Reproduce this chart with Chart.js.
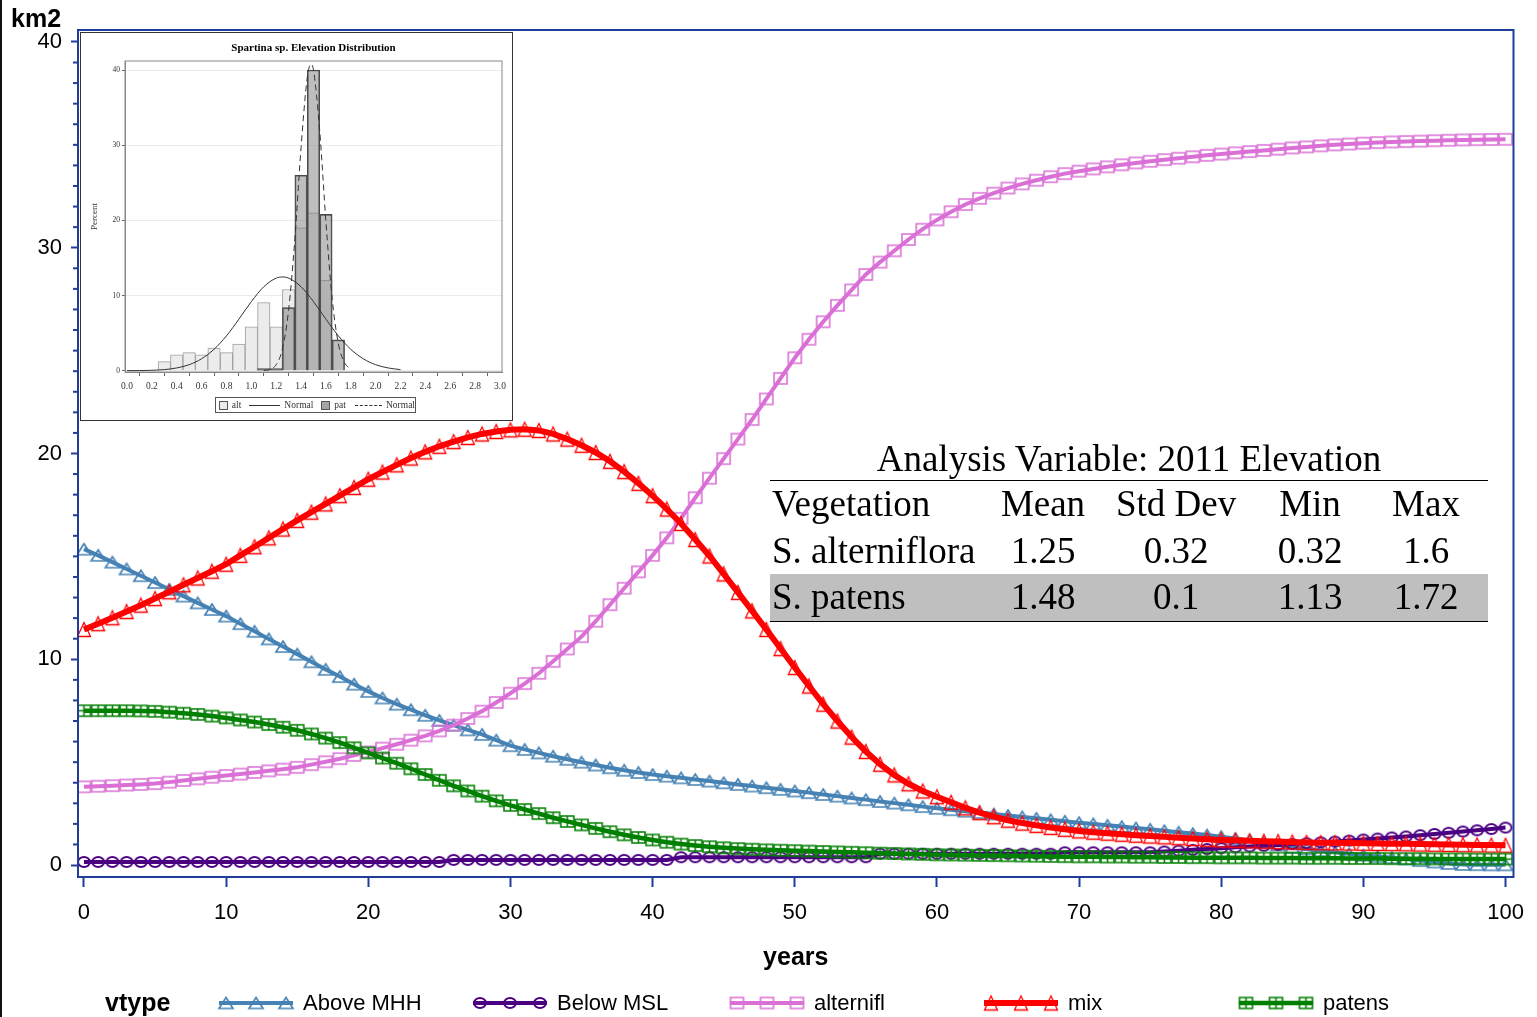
<!DOCTYPE html>
<html>
<head>
<meta charset="utf-8">
<title>Vegetation area by year</title>
<script src="https://cdn.jsdelivr.net/npm/chart.js@4.4.1/dist/chart.umd.min.js"></script>
<style>
  body { margin: 0; background: #fff; }
  #page { position: relative; width: 1537px; height: 1017px; overflow: hidden; font-family: 'Liberation Sans', Arial, sans-serif; color: #000; }
  #mainChart { position: absolute; left: 0; top: 0; }
  .edge { position: absolute; left: 0; top: 0; width: 2px; height: 1017px; background: #111; }
  .unit { position: absolute; left: 11px; top: 4px; font-weight: bold; font-size: 25px; }

  /* inset histogram */
  .inset { position: absolute; left: 80px; top: 32px; width: 431px; height: 387px; border: 1px solid #333; background: #fff; font-family: 'Liberation Serif', 'Times New Roman', serif; }
  .inset canvas { position: absolute; left: 0; top: 0; }
  .inset-title { position: absolute; left: 44px; width: 377px; top: 8px; text-align: center; font-weight: bold; font-size: 11px; }
  .inset-legend { position: absolute; left: 134px; top: 364px; width: 196px; height: 14px; border: 1px solid #555; display: flex; align-items: center; gap: 4px; padding-left: 3px; font-size: 9.5px; color: #333; box-sizing: content-box; }
  .inset-legend .sq { display: inline-block; width: 7px; height: 7px; border: 1px solid #555; }
  .inset-legend .ln { display: inline-block; width: 32px; height: 0; border-top: 1px solid #333; }
  .inset-legend .ln.dash { width: 28px; border-top: 1px dashed #333; }

  /* statistics table */
  .stats { position: absolute; left: 770px; top: 438px; width: 718px; font-family: 'Liberation Serif', 'Times New Roman', serif; font-size: 37px; }
  .stats-title { text-align: center; line-height: 42px; height: 42px; border-bottom: 1.5px solid #000; }
  .stats table { border-collapse: collapse; width: 718px; table-layout: fixed; border-bottom: 1.5px solid #000; }
  .stats td { padding: 0; height: 46.7px; line-height: 46.7px; text-align: center; white-space: nowrap; }
  .stats td:first-child { text-align: left; padding-left: 2px; }
  .stats tr.shade td { background: #bfbfbf; }

  /* main legend */
  .legend-title { position: absolute; left: 105px; top: 988px; font-weight: bold; font-size: 25px; }
  .legend-item { position: absolute; top: 990px; display: flex; align-items: center; font-size: 22px; }
  .legend-item canvas { margin-right: 9px; }
</style>
</head>
<body>
<div id="page">
  <canvas id="mainChart" width="1537" height="1017" style="width:1537px;height:1017px"></canvas>
  <div class="edge"></div>
  <div class="unit">km2</div>

  <div class="inset">
    <canvas id="histChart" width="431" height="387" style="width:431px;height:387px"></canvas>
    <div class="inset-title">Spartina sp. Elevation Distribution</div>
    <div class="inset-legend">
      <span class="sq" style="background:#ececec"></span><span>alt</span>
      <span class="ln" style="margin-left:4px"></span><span>Normal</span>
      <span class="sq" style="background:#a4a4a4;margin-left:4px"></span><span>pat</span>
      <span class="ln dash" style="margin-left:5px"></span><span>Normal</span>
    </div>
  </div>

  <div class="stats" id="stats"></div>

  <div class="legend-title">vtype</div>
  <div id="legend"></div>
</div>

<script>
// ---- main chart data (km2 by year) ----
const years = Array.from({ length: 101 }, (_, i) => i);
const xTicks = [0, 10, 20, 30, 40, 50, 60, 70, 80, 90, 100];
const yTicks = [0, 10, 20, 30, 40];
const yMinorTicks = Array.from({ length: 40 }, (_, i) => i + 1).filter(v => v % 10 !== 0);

const aboveMHH = [
  15.35, 15.05, 14.72, 14.39, 14.06, 13.73, 13.40, 13.07, 12.74, 12.42, 12.10,
  11.73, 11.36, 10.99, 10.62, 10.25, 9.88, 9.51, 9.16, 8.79, 8.44,
  8.12, 7.82, 7.55, 7.28, 7.03, 6.80, 6.57, 6.35, 6.07, 5.80,
  5.62, 5.45, 5.29, 5.14, 5.00, 4.86, 4.73, 4.61, 4.50, 4.40,
  4.32, 4.24, 4.16, 4.08, 4.00, 3.92, 3.84, 3.76, 3.68, 3.60,
  3.52, 3.43, 3.35, 3.26, 3.18, 3.09, 3.01, 2.93, 2.84, 2.76,
  2.69, 2.62, 2.55, 2.48, 2.41, 2.34, 2.27, 2.20, 2.13, 2.06,
  2.00, 1.93, 1.87, 1.80, 1.74, 1.67, 1.60, 1.53, 1.46, 1.38,
  1.29, 1.20, 1.10, 0.98, 0.86, 0.78, 0.70, 0.62, 0.55, 0.48,
  0.42, 0.36, 0.30, 0.22, 0.15, 0.08, 0.03, 0.02, 0.01, 0.01
];
const belowMSL = [
  0.15, 0.15, 0.15, 0.15, 0.15, 0.15, 0.15, 0.15, 0.15, 0.15, 0.15,
  0.15, 0.15, 0.15, 0.15, 0.15, 0.15, 0.15, 0.15, 0.15, 0.15,
  0.15, 0.15, 0.15, 0.15, 0.15, 0.25, 0.25, 0.25, 0.25, 0.25,
  0.25, 0.25, 0.25, 0.25, 0.25, 0.25, 0.25, 0.25, 0.25, 0.25,
  0.25, 0.38, 0.38, 0.38, 0.38, 0.38, 0.38, 0.38, 0.38, 0.38,
  0.38, 0.38, 0.38, 0.38, 0.38, 0.55, 0.55, 0.55, 0.55, 0.55,
  0.55, 0.55, 0.55, 0.55, 0.55, 0.55, 0.55, 0.55, 0.62, 0.62,
  0.62, 0.62, 0.62, 0.62, 0.62, 0.66, 0.70, 0.74, 0.78, 0.82,
  0.86, 0.90, 0.94, 0.98, 1.02, 1.06, 1.10, 1.14, 1.19, 1.24,
  1.29, 1.34, 1.39, 1.45, 1.51, 1.57, 1.63, 1.69, 1.75, 1.82
];
const alternifl = [
  3.80, 3.83, 3.86, 3.89, 3.92, 3.96, 4.03, 4.11, 4.19, 4.27, 4.35,
  4.42, 4.50, 4.58, 4.66, 4.75, 4.88, 5.02, 5.17, 5.33, 5.50,
  5.68, 5.87, 6.07, 6.28, 6.52, 6.80, 7.12, 7.48, 7.90, 8.35,
  8.82, 9.32, 9.90, 10.50, 11.10, 11.85, 12.65, 13.45, 14.25, 15.05,
  15.90, 16.85, 17.85, 18.80, 19.75, 20.70, 21.65, 22.65, 23.65, 24.65,
  25.55, 26.40, 27.20, 27.95, 28.70, 29.30, 29.85, 30.40, 30.90, 31.35,
  31.75, 32.10, 32.40, 32.65, 32.90, 33.10, 33.28, 33.45, 33.60, 33.72,
  33.83, 33.93, 34.03, 34.12, 34.20, 34.28, 34.35, 34.42, 34.49, 34.55,
  34.61, 34.67, 34.73, 34.79, 34.85, 34.90, 34.95, 35.00, 35.04, 35.08,
  35.11, 35.14, 35.16, 35.18, 35.20, 35.22, 35.24, 35.25, 35.26, 35.27
];
const mix = [
  11.45, 11.73, 12.02, 12.32, 12.63, 12.95, 13.28, 13.62, 13.95, 14.28, 14.62,
  15.05, 15.47, 15.90, 16.33, 16.75, 17.15, 17.55, 17.95, 18.35, 18.75,
  19.10, 19.45, 19.78, 20.08, 20.35, 20.58, 20.78, 20.95, 21.07, 21.15,
  21.18, 21.12, 20.95, 20.70, 20.40, 20.05, 19.62, 19.12, 18.55, 17.95,
  17.30, 16.60, 15.82, 15.02, 14.15, 13.25, 12.35, 11.45, 10.52, 9.60,
  8.70, 7.82, 7.00, 6.22, 5.52, 4.90, 4.38, 3.95, 3.60, 3.32,
  3.05, 2.78, 2.55, 2.35, 2.18, 2.04, 1.93, 1.83, 1.74, 1.66,
  1.60, 1.55, 1.50, 1.45, 1.41, 1.37, 1.33, 1.29, 1.25, 1.22,
  1.20, 1.18, 1.16, 1.14, 1.12, 1.10, 1.09, 1.08, 1.07, 1.06,
  1.05, 1.04, 1.03, 1.02, 1.01, 1.00, 0.99, 0.98, 0.97, 0.96
];
const patens = [
  7.50, 7.50, 7.50, 7.50, 7.49, 7.47, 7.43, 7.38, 7.32, 7.24, 7.15,
  7.05, 6.95, 6.83, 6.70, 6.55, 6.37, 6.17, 5.95, 5.70, 5.45,
  5.20, 4.95, 4.68, 4.40, 4.12, 3.85, 3.60, 3.35, 3.12, 2.90,
  2.70, 2.50, 2.30, 2.12, 1.95, 1.78, 1.62, 1.47, 1.34, 1.22,
  1.11, 1.02, 0.95, 0.89, 0.84, 0.80, 0.77, 0.74, 0.72, 0.70,
  0.68, 0.66, 0.64, 0.62, 0.60, 0.58, 0.56, 0.54, 0.52, 0.50,
  0.49, 0.48, 0.47, 0.46, 0.45, 0.44, 0.43, 0.42, 0.41, 0.40,
  0.40, 0.39, 0.39, 0.38, 0.38, 0.37, 0.37, 0.36, 0.36, 0.35,
  0.35, 0.35, 0.34, 0.34, 0.34, 0.33, 0.33, 0.33, 0.32, 0.32,
  0.32, 0.31, 0.31, 0.31, 0.30, 0.30, 0.30, 0.29, 0.29, 0.29
];

// ---- inset histogram data (percent by elevation) ----
const altBins = [0.3, 0.4, 0.5, 0.6, 0.7, 0.8, 0.9, 1.0, 1.1, 1.2, 1.3, 1.4, 1.5, 1.6];
const altPct = [1.2, 2.1, 2.4, 2.1, 3.0, 2.4, 3.55, 5.85, 9.05, 5.85, 10.8, 19.0, 21.0, 12.05];
const patBins = [1.1, 1.2, 1.3, 1.4, 1.5, 1.6, 1.7];
const patPct = [0.3, 0.3, 8.4, 26.0, 40.0, 20.8, 4.1];
const altNormX = [0.0, 0.1, 0.2, 0.3, 0.4, 0.5, 0.6, 0.7, 0.8, 0.9, 1.0, 1.1, 1.2, 1.25, 1.3, 1.4, 1.5, 1.6, 1.7, 1.8, 1.9, 2.0, 2.1, 2.2];
const altNormY = [0.01, 0.02, 0.06, 0.15, 0.37, 0.80, 1.59, 2.85, 4.64, 6.86, 9.19, 11.17, 12.32, 12.47, 12.32, 11.17, 9.19, 6.86, 4.64, 2.85, 1.59, 0.80, 0.37, 0.15];
const patNormX = [1.10, 1.15, 1.20, 1.25, 1.30, 1.35, 1.40, 1.45, 1.48, 1.50, 1.55, 1.60, 1.65, 1.70, 1.75, 1.80];
const patNormY = [0.03, 0.17, 0.81, 2.9, 8.1, 17.5, 29.7, 39.0, 40.8, 40.0, 31.9, 19.8, 9.6, 3.6, 1.06, 0.25];
const histXTicks = [0, 0.2, 0.4, 0.6, 0.8, 1.0, 1.2, 1.4, 1.6, 1.8, 2.0, 2.2, 2.4, 2.6, 2.8, 3.0];
const histYTicks = [0, 10, 20, 30, 40];

// ---- summary table ----
const statsTitle = 'Analysis Variable: 2011 Elevation';
const statsHeader = ['Vegetation', 'Mean', 'Std Dev', 'Min', 'Max'];
const statsRows = [
  ['S. alterniflora', '1.25', '0.32', '0.32', '1.6'],
  ['S. patens', '1.48', '0.1', '1.13', '1.72']
];

const AXIS_BLUE = '#1f3d99';

// hollow marker glyphs used as point styles
function makeMarker(shape, color, w, h, lw) {
  const c = document.createElement('canvas');
  c.width = Math.ceil(w + lw * 2 + 2);
  c.height = Math.ceil(h + lw * 2 + 2);
  const g = c.getContext('2d');
  const cx = c.width / 2, cy = c.height / 2;
  g.strokeStyle = color;
  g.lineWidth = lw;
  g.beginPath();
  if (shape === 'triangle') {
    g.moveTo(cx, cy - h / 2);
    g.lineTo(cx + w / 2, cy + h / 2);
    g.lineTo(cx - w / 2, cy + h / 2);
    g.closePath();
  } else if (shape === 'circle') {
    g.ellipse(cx, cy, w / 2, h / 2, 0, 0, Math.PI * 2);
  } else {
    g.rect(cx - w / 2, cy - h / 2, w, h);
    if (shape === 'squareplus') {
      g.moveTo(cx, cy - h / 2); g.lineTo(cx, cy + h / 2);
      g.moveTo(cx - w / 2, cy); g.lineTo(cx + w / 2, cy);
    }
  }
  g.stroke();
  return c;
}

const series = [
  { label: 'Above MHH', values: aboveMHH, color: '#4682B4', width: 4, marker: makeMarker('triangle', '#4682B4', 14, 11, 1.7), order: 5, legendLeft: 218 },
  { label: 'Below MSL', values: belowMSL, color: '#4B0082', width: 4, marker: makeMarker('circle', '#4B0082', 12, 10, 2), order: 4, legendLeft: 472 },
  { label: 'alternifl', values: alternifl, color: '#DA70D6', width: 4, marker: makeMarker('square', '#DA70D6', 13, 11, 1.6), order: 3, legendLeft: 729 },
  { label: 'mix', values: mix, color: '#FF0000', width: 6, marker: makeMarker('triangle', '#FF0000', 13, 14, 1.3), order: 2, legendLeft: 983 },
  { label: 'patens', values: patens, color: '#008000', width: 4.5, marker: makeMarker('squareplus', '#008000', 13, 11, 1.6), order: 1, legendLeft: 1238 }
];

// frame around the plot area + optional minor y ticks
const frameTicks = {
  id: 'frameTicks',
  afterDraw(chart, args, opts) {
    const { ctx, chartArea: a } = chart;
    ctx.save();
    ctx.strokeStyle = opts.color;
    ctx.lineWidth = opts.width;
    ctx.strokeRect(a.left, a.top, a.right - a.left, a.bottom - a.top);
    (opts.minor || []).forEach(v => {
      const y = chart.scales.y.getPixelForValue(v);
      ctx.beginPath();
      ctx.moveTo(a.left - opts.minorLength, y);
      ctx.lineTo(a.left, y);
      ctx.stroke();
    });
    ctx.restore();
  }
};

new Chart(document.getElementById('mainChart'), {
  type: 'line',
  data: {
    datasets: series.map(s => ({
      label: s.label,
      data: years.map((yr, i) => ({ x: yr, y: s.values[i] })),
      borderColor: s.color,
      borderWidth: s.width,
      pointStyle: s.marker,
      pointRadius: 6,
      tension: 0,
      order: s.order
    }))
  },
  options: {
    responsive: false,
    animation: false,
    layout: { padding: { top: 30, right: 21, bottom: 44, left: 0 } },
    plugins: {
      legend: { display: false },
      tooltip: { enabled: false },
      frameTicks: { color: AXIS_BLUE, width: 2, minor: yMinorTicks, minorLength: 5 }
    },
    scales: {
      x: {
        type: 'linear',
        min: -0.42,
        max: 100.56,
        afterBuildTicks: s => { s.ticks = xTicks.map(v => ({ value: v })); },
        afterFit: s => { s.height = 96; },
        grid: { drawOnChartArea: false, tickLength: 10, tickColor: AXIS_BLUE, tickWidth: 2 },
        border: { color: AXIS_BLUE, width: 2 },
        ticks: { color: '#000', padding: 13, maxRotation: 0, font: { family: 'Liberation Sans', size: 22 } },
        title: { display: true, text: 'years', color: '#000', padding: 0, font: { family: 'Liberation Sans', size: 25, weight: 'bold' } }
      },
      y: {
        min: -0.58,
        max: 40.58,
        afterBuildTicks: s => { s.ticks = yTicks.map(v => ({ value: v })); },
        afterFit: s => { s.width = 78; },
        grid: { drawOnChartArea: false, tickLength: 7, tickColor: AXIS_BLUE, tickWidth: 2 },
        border: { color: AXIS_BLUE, width: 2 },
        ticks: { color: '#000', padding: 9, font: { family: 'Liberation Sans', size: 22 } }
      }
    }
  },
  plugins: [frameTicks]
});

// ---- inset histogram ----
new Chart(document.getElementById('histChart'), {
  type: 'bar',
  data: {
    datasets: [
      {
        type: 'line', label: 'Normal', data: patNormX.map((x, i) => ({ x, y: patNormY[i] })),
        borderColor: '#333', borderWidth: 1, borderDash: [6, 4], pointRadius: 0, cubicInterpolationMode: 'monotone', order: 0
      },
      {
        type: 'line', label: 'Normal', data: altNormX.map((x, i) => ({ x, y: altNormY[i] })),
        borderColor: '#333', borderWidth: 1, pointRadius: 0, cubicInterpolationMode: 'monotone', order: 1
      },
      {
        label: 'pat', data: patBins.map((x, i) => ({ x, y: patPct[i] })),
        backgroundColor: 'rgba(110,110,110,0.45)', borderColor: '#4a4a4a', borderWidth: 1,
        barPercentage: 1, categoryPercentage: 1, grouped: false, order: 2
      },
      {
        label: 'alt', data: altBins.map((x, i) => ({ x, y: altPct[i] })),
        backgroundColor: '#ececec', borderColor: '#a0a0a0', borderWidth: 1,
        barPercentage: 1, categoryPercentage: 1, grouped: false, order: 3
      }
    ]
  },
  options: {
    responsive: false,
    animation: false,
    layout: { padding: { top: 28, right: 10, bottom: 0, left: 0 } },
    plugins: {
      legend: { display: false },
      tooltip: { enabled: false },
      frameTicks: { color: '#888', width: 1 }
    },
    scales: {
      x: {
        type: 'linear',
        offset: false,
        min: -0.016,
        max: 3.016,
        afterBuildTicks: s => { s.ticks = histXTicks.map(v => ({ value: v })); },
        afterFit: s => { s.height = 48; },
        grid: { drawOnChartArea: false, tickLength: 4, tickColor: '#666' },
        border: { color: '#888' },
        ticks: { color: '#333', padding: 5, maxRotation: 0, callback: v => v.toFixed(1), font: { family: 'Liberation Serif', size: 9.5 } }
      },
      y: {
        min: -0.17,
        max: 41.2,
        afterBuildTicks: s => { s.ticks = histYTicks.map(v => ({ value: v })); },
        afterFit: s => { s.width = 44; },
        grid: { color: '#ebebeb', tickLength: 3, tickColor: '#666' },
        border: { color: '#888' },
        ticks: { color: '#333', padding: 2, font: { family: 'Liberation Serif', size: 7.5 } },
        title: { display: true, text: 'Percent', color: '#333', padding: { top: 8, bottom: 0 }, font: { family: 'Liberation Serif', size: 9 } }
      }
    }
  },
  plugins: [frameTicks]
});

// ---- summary table ----
const colWidths = [220, 106, 160, 108, 124];
document.getElementById('stats').innerHTML = `
  <div class="stats-title">${statsTitle}</div>
  <table>
    <colgroup>${colWidths.map(w => `<col style="width:${w}px">`).join('')}</colgroup>
    <tr>${statsHeader.map(h => `<td>${h}</td>`).join('')}</tr>
    ${statsRows.map((r, i) => `<tr class="${i === 1 ? 'shade' : ''}">${r.map(c => `<td>${c}</td>`).join('')}</tr>`).join('')}
  </table>`;

// ---- legend with line + three markers ----
const legendEl = document.getElementById('legend');
series.forEach(s => {
  const item = document.createElement('div');
  item.className = 'legend-item';
  item.style.left = s.legendLeft + 'px';
  const c = document.createElement('canvas');
  c.width = 76; c.height = 24;
  const g = c.getContext('2d');
  g.strokeStyle = s.color;
  g.lineWidth = s.width;
  g.beginPath(); g.moveTo(1, 12); g.lineTo(75, 12); g.stroke();
  [8, 38, 68].forEach(x => g.drawImage(s.marker, x - s.marker.width / 2, 12 - s.marker.height / 2));
  item.appendChild(c);
  const t = document.createElement('span');
  t.textContent = s.label;
  item.appendChild(t);
  legendEl.appendChild(item);
});
</script>
</body>
</html>
